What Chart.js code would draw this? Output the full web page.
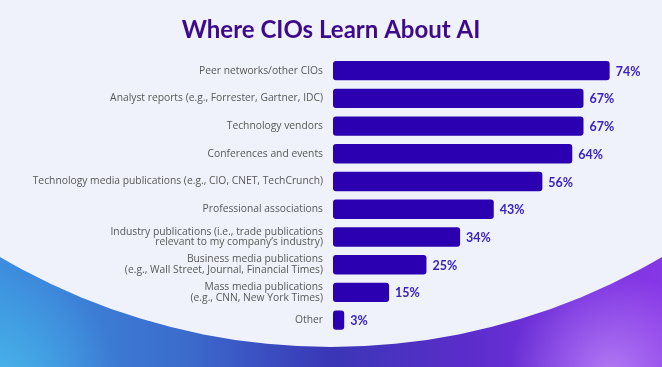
<!DOCTYPE html>
<html>
<head>
<meta charset="utf-8">
<script src="https://cdn.jsdelivr.net/npm/chart.js@4.4.1/dist/chart.umd.min.js"></script>
<style>
  html, body { margin: 0; padding: 0; background: #eff2fa; }
  #wrap { width: 662px; height: 367px; position: relative; }
</style>
</head>
<body>
<div id="wrap"><canvas id="myChart" width="662" height="367"></canvas></div>
<script>
"use strict"

// survey answers, top to bottom
const sources = [
  'Peer networks/other CIOs',
  'Analyst reports (e.g., Forrester, Gartner, IDC)',
  'Technology vendors',
  'Conferences and events',
  'Technology media publications (e.g., CIO, CNET, TechCrunch)',
  'Professional associations',
  ['Industry publications (i.e., trade publications', 'relevant to my company\u2019s industry)'],
  ['Business media publications', '(e.g., Wall Street, Journal, Financial Times)'],
  ['Mass media publications', '(e.g., CNN, New York Times)'],
  'Other'
];
const percents = [74, 67, 67, 64, 56, 43, 34, 25, 15, 3];

const titleText = 'Where CIOs Learn About AI';

// background: light page with a blue/purple wave at the bottom
const backdrop = {
  id: 'backdrop',
  beforeDraw(chart) {
    const ctx = chart.ctx;
    const w = chart.width, h = chart.height;
    ctx.save();
    let g = ctx.createLinearGradient(0, 0, w, 0);
    g.addColorStop(0, '#3d8ede');
    g.addColorStop(0.28, '#3b6ccc');
    g.addColorStop(0.5, '#3a36b6');
    g.addColorStop(0.7, '#5a2dca');
    g.addColorStop(0.86, '#7630de');
    g.addColorStop(1, '#8738e6');
    ctx.fillStyle = g;
    ctx.fillRect(0, 0, w, h);

    let r1 = ctx.createRadialGradient(0, h + 20, 0, 0, h + 20, 120);
    r1.addColorStop(0, 'rgba(75,195,238,0.75)');
    r1.addColorStop(1, 'rgba(75,195,238,0)');
    ctx.fillStyle = r1;
    ctx.fillRect(0, 0, w, h);

    let r2 = ctx.createRadialGradient(610, h + 5, 0, 610, h + 5, 100);
    r2.addColorStop(0, 'rgba(210,165,255,0.6)');
    r2.addColorStop(1, 'rgba(210,165,255,0)');
    ctx.fillStyle = r2;
    ctx.fillRect(0, 0, w, h);

    ctx.beginPath();
    ctx.arc(331, -307, 654, 0, Math.PI * 2);
    ctx.fillStyle = '#eff2fa';
    ctx.fill();
    ctx.restore();
  }
};

// percent labels at the end of each bar
const barLabels = {
  id: 'barLabels',
  afterDatasetsDraw(chart) {
    const ctx = chart.ctx;
    const meta = chart.getDatasetMeta(0);
    ctx.save();
    ctx.font = 'bold 12.5px Lato';
    ctx.fillStyle = '#3b20c2';
    ctx.textBaseline = 'middle';
    ctx.textAlign = 'left';
    meta.data.forEach((bar, i) => {
      ctx.fillText(percents[i] + '%', bar.x + 6, bar.y + 1);
    });
    ctx.restore();
  }
};

let myChart = document.getElementById('myChart').getContext('2d');

let cioChart = new Chart(myChart, {
  type: 'bar',
  data: {
    labels: sources,
    datasets: [{
      data: percents,
      backgroundColor: '#2b00b0',
      borderRadius: 3,
      borderSkipped: false,
      barPercentage: 0.7,
      categoryPercentage: 1
    }]
  },
  options: {
    indexAxis: 'y',
    responsive: false,
    animation: false,
    layout: { padding: { left: 0, right: 0, top: 0, bottom: 33 } },
    plugins: {
      legend: { display: false },
      tooltip: { enabled: false },
      title: {
        display: true,
        text: titleText,
        color: '#3c0a8a',
        font: { family: 'Lato', size: 24, weight: 'bold', lineHeight: 1.2 },
        padding: { top: 16, bottom: 12 }
      }
    },
    scales: {
      x: {
        display: false,
        min: 0,
        max: 88
      },
      y: {
        grid: { display: false },
        border: { display: false },
        afterFit(scale) { scale.width = 333; },
        ticks: {
          color: '#585858',
          padding: 2,
          autoSkip: false,
          font: { family: 'Open Sans', size: 10.3, lineHeight: 1.05 }
        }
      }
    }
  },
  plugins: [backdrop, barLabels]
});
</script>
</body>
</html>
